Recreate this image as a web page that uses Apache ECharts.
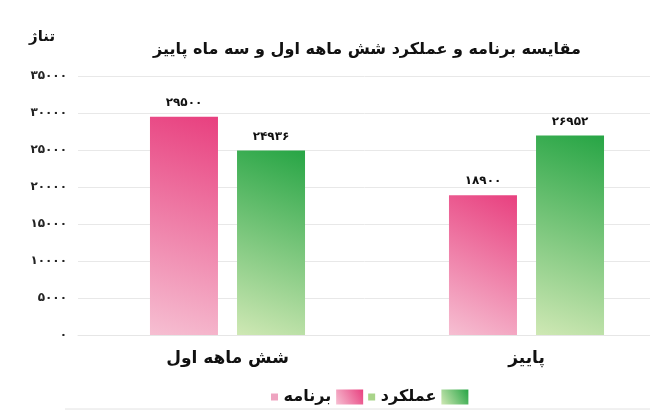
<!DOCTYPE html>
<html>
<head>
<meta charset="utf-8">
<script src="https://cdn.jsdelivr.net/npm/echarts@6/dist/echarts.min.js"></script>
<style>
html, body { margin: 0; padding: 0; background: #fff; }
#main { width: 650px; height: 419px; }
</style>
</head>
<body>
<div id="main"></div>
<script>
// داده‌ها
var categories = ['شش ماهه اول', 'پاییز'];
var planValues = [29500, 18900];     // برنامه
var actualValues = [24936, 26952];   // عملکرد
var seriesNames = ['برنامه', 'عملکرد'];
var yTicks = [0, 5000, 10000, 15000, 20000, 25000, 30000, 35000];

var FONT = 'DejaVu Sans';

// تبدیل ارقام به فارسی
function faDigits(v) {
    var fa = '۰۱۲۳۴۵۶۷۸۹';
    return String(v).replace(/[0-9]/g, function (d) { return fa[+d]; });
}

function grad(light, dark) {
    return new echarts.graphic.LinearGradient(0, 1, 1, 0, [
        { offset: 0, color: light },
        { offset: 1, color: dark }
    ]);
}

var myChart = echarts.init(document.getElementById('main'));

var option = {
    backgroundColor: '#fff',
    animation: false,
    title: {
        text: 'مقایسه برنامه و عملکرد شش ماهه اول و سه ماه پاییز',
        left: 362,
        textAlign: 'center',
        top: 37,
        textStyle: { fontFamily: FONT, fontSize: 16, fontWeight: 'bold', color: '#111' }
    },
    legend: {
        left: 266,
        top: 384,
        itemGap: 5,
        align: 'right',
        itemWidth: 27,
        itemHeight: 15,
        icon: 'rect',
        data: seriesNames,
        formatter: function (name) {
            return (name === seriesNames[0] ? '{p|}' : '{g|}') + ' ' + name;
        },
        textStyle: {
            fontFamily: FONT, fontSize: 16, fontWeight: 'bold', color: '#111',
            rich: {
                p: { width: 7, height: 7, backgroundColor: '#eea4c0' },
                g: { width: 7, height: 7, backgroundColor: '#a9d48a' }
            }
        }
    },
    graphic: [
        {
            type: 'text', left: 29, top: 30,
            style: { text: 'تناژ', fontFamily: FONT, fontSize: 15, fontWeight: 'bold', fill: '#111' }
        },
        {
            type: 'line',
            shape: { x1: 65, y1: 409, x2: 650, y2: 409 },
            style: { stroke: '#e2e2e2', lineWidth: 1 }
        }
    ],
    grid: {
        left: 78,
        top: 76,
        width: 598,
        height: 259,
        outerBoundsMode: 'none'
    },
    xAxis: {
        type: 'category',
        data: categories,
        axisLine: { lineStyle: { color: '#e6e6e6' } },
        axisTick: { show: false },
        axisLabel: {
            margin: 15,
            fontFamily: FONT, fontSize: 17, fontWeight: 'bold', color: '#111'
        }
    },
    yAxis: {
        type: 'value',
        min: yTicks[0],
        max: yTicks[yTicks.length - 1],
        interval: yTicks[1] - yTicks[0],
        axisLine: { show: false },
        axisTick: { show: false },
        splitLine: { lineStyle: { color: '#e8e8e8' } },
        axisLabel: {
            margin: 11,
            fontFamily: FONT, fontSize: 12, fontWeight: 'bold', color: '#222',
            formatter: function (v) { return faDigits(v); }
        }
    },
    series: [
        {
            name: seriesNames[0],
            type: 'bar',
            data: planValues,
            barWidth: 68,
            barGap: '28%',
            itemStyle: { color: grad('#f6bfd2', '#e8407f') },
            label: {
                show: true, position: 'top', distance: 8,
                fontFamily: FONT, fontSize: 12, fontWeight: 'bold', color: '#111',
                formatter: function (p) { return faDigits(p.value); }
            }
        },
        {
            name: seriesNames[1],
            type: 'bar',
            data: actualValues,
            barWidth: 68,
            itemStyle: { color: grad('#cfe8b4', '#27a545') },
            label: {
                show: true, position: 'top', distance: 8,
                fontFamily: FONT, fontSize: 12, fontWeight: 'bold', color: '#111',
                formatter: function (p) { return faDigits(p.value); }
            }
        }
    ]
};

myChart.setOption(option, true);
</script>
</body>
</html>
